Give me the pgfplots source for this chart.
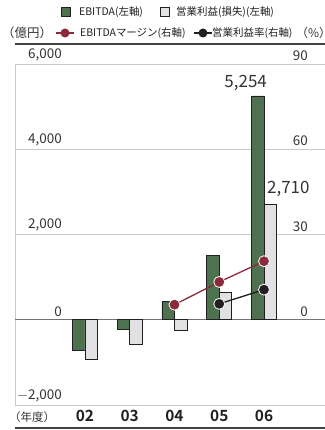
\documentclass[border=0pt]{standalone}
\usepackage{fontspec}
\setmainfont{Noto Sans CJK JP}[BoldFont={Noto Sans CJK JP Bold}]
\usepackage{pgfplots}
\pgfplotsset{compat=1.18}
\definecolor{cgreen}{HTML}{4E7250}
\definecolor{cgray}{HTML}{E1E1E3}
\definecolor{cred}{HTML}{8A2A3A}
\definecolor{cblack}{HTML}{231F20}
\definecolor{cgrid}{HTML}{C8C8C8}
\definecolor{ctext}{HTML}{333333}
\begin{document}
\begin{tikzpicture}[x=1bp,y=1bp]
\path[use as bounding box] (-15,-25) rectangle (310,405);
% left axis: bars
\begin{axis}[
  name=ax,
  at={(0,0)}, anchor=south west,
  scale only axis, width=310bp, height=341bp,
  xmin=-1.564, xmax=5.363,
  ymin=-2000, ymax=6000,
  ytick={-2000,0,2000,4000,6000},
  yticklabels={{$-$2,000},{0},{2,000},{4,000},{6,000}},
  /pgf/number format/assume math mode=true,
  yticklabel style={anchor=south east, inner sep=0pt, xshift=47bp, yshift=3bp, font=\fontsize{13.5}{15}\selectfont, text=ctext},
  xtick={0,1,2,3,4},
  xticklabels={02,03,04,05,06},
  xticklabel style={font=\fontsize{15.5}{17}\selectfont\bfseries, text=cblack, inner sep=0pt, yshift=-5bp},
  major tick length=0pt,
  ymajorgrids, grid style={cgrid, line width=0.8bp},
  axis line style={draw=none},
  clip=false,
]
\draw[cgrid, line width=0.8bp] (rel axis cs:0,0) -- (rel axis cs:0,1);
\draw[gray!90!black, line width=0.9bp] (axis cs:-1.564,0) -- (axis cs:5.363,0);
\addplot[ybar, bar width=12.5bp, bar shift=-6.25bp, fill=cgreen, draw=cblack, line width=0.6bp]
  coordinates {(0,-706) (1,-235) (2,430) (3,1506) (4,5254)};
\addplot[ybar, bar width=12.5bp, bar shift=6.25bp, fill=cgray, draw=cblack, line width=0.6bp]
  coordinates {(0,-918) (1,-565) (2,-259) (3,635) (4,2710)};
\node[anchor=south east, inner sep=0pt, font=\fontsize{17}{19}\selectfont, text=ctext] at ([xshift=3bp,yshift=5bp]axis cs:4,5254) {5,254};
\node[anchor=south west, inner sep=0pt, font=\fontsize{17}{19}\selectfont, text=ctext] at ([xshift=3bp,yshift=7bp]axis cs:4,2710) {2,710};
\end{axis}
% right axis: lines
\begin{axis}[
  at={(0,0)}, anchor=south west,
  scale only axis, width=310bp, height=341bp,
  xmin=-1.564, xmax=5.363,
  ymin=-30, ymax=90,
  ytick={0,30,60,90},
  yticklabel pos=right,
  /pgf/number format/assume math mode=true,
  yticklabel style={anchor=south east, inner sep=0pt, xshift=-17bp, yshift=3bp, font=\fontsize{13.5}{15}\selectfont, text=ctext},
  xtick=\empty,
  major tick length=0pt,
  axis line style={draw=none},
  clip=false,
]
\addplot[cred, line width=1.3bp, mark=*, mark size=5.5bp, mark options={fill=cred, draw=white, line width=0.8bp}]
  coordinates {(2,5.3) (3,13.3) (4,20.6)};
\addplot[cblack, line width=1.3bp, mark=*, mark size=5.5bp, mark options={fill=cblack, draw=white, line width=0.8bp}]
  coordinates {(3,5.6) (4,10.6)};
\end{axis}
% rules
\draw[cblack!85, line width=1.3bp] (0,361) -- (310,361);
\draw[cblack!85, line width=1.3bp] (0,-23) -- (310,-23);
\node[anchor=west, inner sep=0pt, font=\fontsize{11.5}{13}\selectfont, text=ctext] at (-6,-12) {（年度）};
% legend
\begin{scope}[font=\fontsize{10.5}{12}\selectfont, text=cblack]
\draw[fill=cgreen, draw=cblack, line width=0.6bp] (46.5,388.5) rectangle (55.5,397.5);
\node[anchor=west, inner sep=0pt] at (64,393) {EBITDA(左軸)};
\draw[fill=cgray, draw=cblack, line width=0.6bp] (145.5,388.5) rectangle (154.5,397.5);
\node[anchor=west, inner sep=0pt] at (161,393) {営業利益(損失)(左軸)};
\node[anchor=west, inner sep=0pt, font=\fontsize{12.5}{14}\selectfont, text=ctext] at (-13,372) {（億円）};
\draw[cred, line width=1.3bp] (41,372) -- (59,372);
\fill[cred] (50,372) circle (4.5);
\node[anchor=west, inner sep=0pt] at (65,372) {EBITDAマージン(右軸)};
\draw[cblack, line width=1.3bp] (179,372) -- (197,372);
\fill[cblack] (188,372) circle (4.5);
\node[anchor=west, inner sep=0pt] at (197,372) {営業利益率(右軸)};
\node[anchor=west, inner sep=0pt, font=\fontsize{12}{14}\selectfont, text=ctext] at (281,372) {（\%）};
\end{scope}
\end{tikzpicture}
\end{document}
